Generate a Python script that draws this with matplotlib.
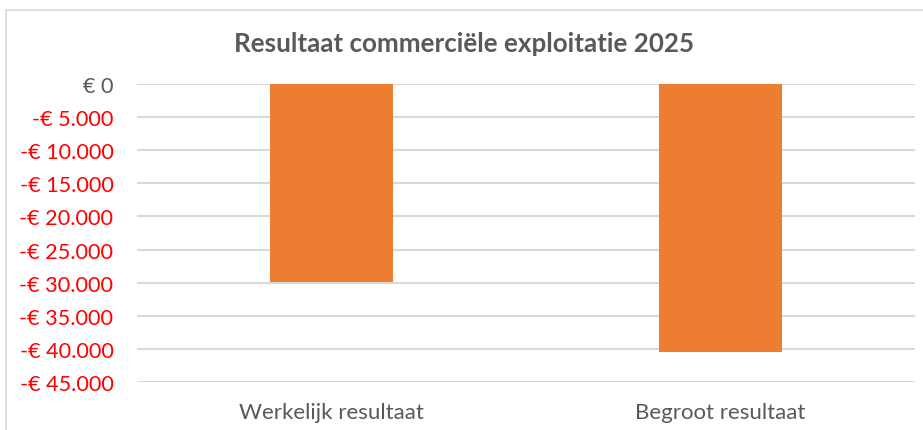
import matplotlib
matplotlib.use("Agg")
import matplotlib.pyplot as plt
from matplotlib.patches import Rectangle

categories = ["Werkelijk resultaat", "Begroot resultaat"]
values = [-29900, -40400]
tick_values = [0, -5000, -10000, -15000, -20000, -25000, -30000, -35000, -40000, -45000]
tick_labels = ["€ 0", "-€ 5.000", "-€ 10.000", "-€ 15.000", "-€ 20.000", "-€ 25.000",
               "-€ 30.000", "-€ 35.000", "-€ 40.000", "-€ 45.000"]
title = "Resultaat commerciële exploitatie 2025"

plt.rcParams['font.family'] = ['Lato', 'DejaVu Sans']

fig = plt.figure(figsize=(9.23, 4.31), dpi=100)
fig.patches.append(Rectangle((6/923, -0.01), 1.0, 1 - 11/431 + 0.01, transform=fig.transFigure,
                             fill=False, edgecolor="#D9D9D9", linewidth=1.2))
ax = fig.add_axes([137/923, 1 - 383.3/431, (915 - 137)/923, (383.3 - 84.7)/431])

x = list(range(len(categories)))
ax.bar(x, values, width=0.314, color="#ED7D31", zorder=3)
ax.set_xlim(-0.5, 1.5)
ax.set_ylim(-45000, 0)
ax.set_yticks(tick_values)
ax.set_yticklabels(tick_labels, fontsize=15.6)
for lbl, v in zip(ax.get_yticklabels(), tick_values):
    lbl.set_color("#595959" if v == 0 else "#FF0000")
ax.set_xticks(x)
ax.set_xticklabels(categories, fontsize=16, color="#595959")
ax.tick_params(axis="both", length=0)
ax.tick_params(axis="y", pad=17)
ax.tick_params(axis="x", pad=14)
ax.grid(axis="y", color="#D9D9D9", linewidth=1.5, zorder=0)
ax.set_axisbelow(True)
for s in ax.spines.values():
    s.set_visible(False)

fig.text(0.503, 1 - 44/431, title, ha="center", va="center", fontsize=18.7,
         fontweight="bold", color="#595959")

fig.savefig("out.png", dpi=100)
